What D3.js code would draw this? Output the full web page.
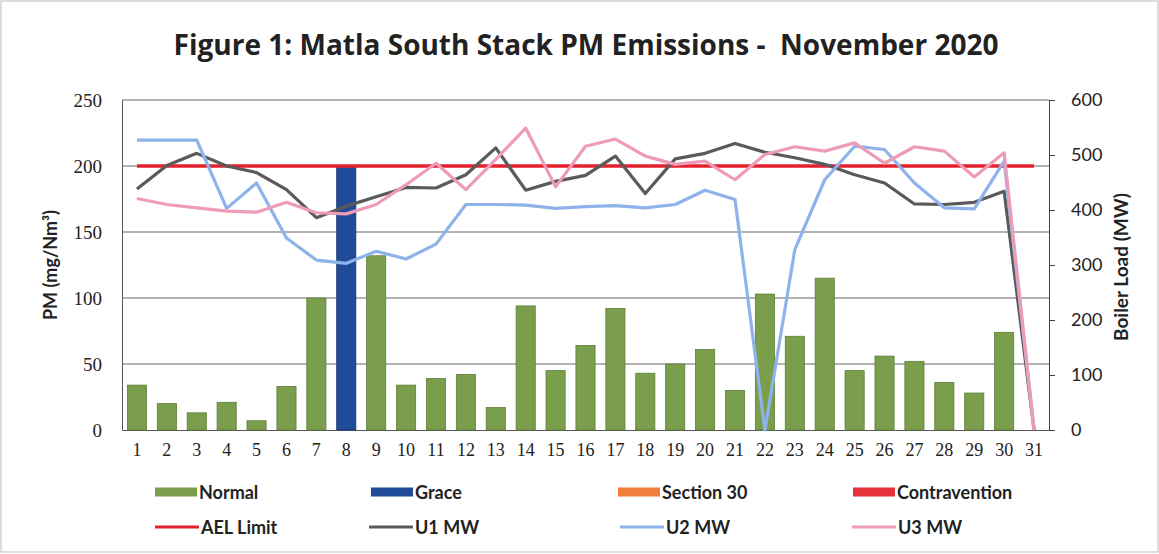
<!DOCTYPE html>
<html>
<head>
<meta charset="utf-8">
<script src="https://cdn.jsdelivr.net/npm/d3@7"></script>
<style>
  body { margin: 0; background: #fff; }
  svg text { font-family: Lato, "Open Sans", sans-serif; fill: #222; }
  svg .serif text { font-family: "Liberation Serif", "DejaVu Serif", serif; }
</style>
</head>
<body>
<svg id="chart" width="1159" height="554"></svg>
<script>
// data
const days = d3.range(1, 32).map(String);
const pm = [34, 20, 13, 21, 7, 33, 100, 200, 132, 34, 39, 42, 17, 94, 45, 64, 92, 43, 50, 61, 30, 103, 71, 115, 45, 56, 52, 36, 28, 74, null];
const grace_days = ['8'];
const ael_limit = days.map(() => 200);
const u1_mw = [438, 481, 503, 480, 468, 437, 386, 407, 424, 441, 440, 464, 513, 436, 452, 463, 498, 430, 493, 503, 521, 505, 495, 483, 464, 449, 411, 410, 414, 434, 0];
const u2_mw = [527, 527, 527, 403, 449, 349, 309, 303, 325, 311, 338, 410, 410, 409, 403, 406, 408, 404, 410, 436, 419, 0, 328, 455, 516, 510, 449, 404, 402, 489, 0];
const u3_mw = [421, 410, 404, 398, 396, 414, 395, 393, 410, 446, 485, 437, 492, 549, 442, 516, 529, 498, 483, 489, 455, 501, 515, 507, 522, 485, 515, 507, 460, 504, 0];
const pm_ticks = [0, 50, 100, 150, 200, 250];
const mw_ticks = [0, 100, 200, 300, 400, 500, 600];

const col = {
    normal: '#7a9e4c', grace: '#1f4b98', s30: '#ef7e3a', contra: '#e5323c',
    ael: '#e4202c', u1: '#5a5a5a', u2: '#8db3ea', u3: '#ee9bb8'
};

let svg = d3.select('#chart');
let plot_left = 122, plot_right = 1049, plot_top = 100, plot_bottom = 430;

// outer frame
svg.append('rect').attr('x', 1).attr('y', 1).attr('width', 1157).attr('height', 551)
    .attr('fill', 'none').attr('stroke', '#bbb');

let x = d3.scaleBand().domain(days).range([plot_left, plot_right]).paddingInner(0.36).paddingOuter(0.18);
let y = d3.scaleLinear().domain([0, 250]).range([plot_bottom, plot_top]);
let y2 = d3.scaleLinear().domain([0, 600]).range([plot_bottom, plot_top]);

// gridlines
svg.append('g').selectAll('line').data(pm_ticks.filter(d => d > 0)).enter().append('line')
    .attr('x1', plot_left).attr('x2', plot_right)
    .attr('y1', d => y(d)).attr('y2', d => y(d))
    .attr('stroke', '#666').attr('stroke-width', 1.1);

// left axis
let ya = svg.append('g').attr('class', 'serif').attr('transform', 'translate(' + plot_left + ',0)')
    .call(d3.axisLeft(y).tickValues(pm_ticks).tickSize(0).tickPadding(20));
ya.select('.domain').attr('stroke', '#555');
ya.selectAll('text').style('font-size', '19px').attr('fill', '#333');

// right axis
let yb = svg.append('g').attr('transform', 'translate(' + plot_right + ',0)')
    .call(d3.axisRight(y2).tickValues(mw_ticks).tickSize(6).tickPadding(16));
yb.select('.domain').attr('stroke', '#444');
yb.selectAll('line').attr('stroke', '#444');
yb.selectAll('text').style('font-size', '18px').attr('fill', '#333');

// x axis
let xa = svg.append('g').attr('class', 'serif').attr('transform', 'translate(0,' + plot_bottom + ')')
    .call(d3.axisBottom(x).tickSize(0).tickPadding(13));
xa.select('.domain').attr('stroke', '#555');
xa.selectAll('text').style('font-size', '18px').attr('fill', '#333');

// bars
svg.append('g').selectAll('rect')
    .data(days.map((d, i) => ({day: d, v: pm[i]})).filter(d => d.v !== null))
    .enter().append('rect')
    .attr('x', d => x(d.day))
    .attr('y', d => y(d.v))
    .attr('width', x.bandwidth())
    .attr('height', d => y(0) - y(d.v))
    .attr('fill', d => grace_days.includes(d.day) ? col.grace : col.normal)
    .attr('stroke', d => grace_days.includes(d.day) ? '#17346a' : '#5e7d38')
    .attr('stroke-width', 0.8);

// lines
function draw_line(values, scale, color, w) {
    let line = d3.line()
        .defined(d => d !== null)
        .x((d, i) => x(days[i]) + x.bandwidth() / 2)
        .y(d => scale(d));
    svg.append('path').datum(values).attr('d', line)
        .attr('fill', 'none').attr('stroke', color)
        .attr('stroke-width', w).attr('stroke-linejoin', 'round');
}
draw_line(ael_limit, y, col.ael, 3.5);
draw_line(u1_mw, y2, col.u1, 3.2);
draw_line(u2_mw, y2, col.u2, 3.2);
draw_line(u3_mw, y2, col.u3, 3.2);

// title
svg.append('text').attr('x', 586).attr('y', 55).attr('text-anchor', 'middle')
    .attr('xml:space', 'preserve').style('white-space', 'pre')
    .style('font-family', '"Open Sans", sans-serif')
    .style('font-size', '28px').style('font-weight', 'bold').attr('fill', '#2a2a2a')
    .text('Figure 1: Matla South Stack PM Emissions -  November 2020');

// axis titles
svg.append('text').attr('transform', 'translate(57,265) rotate(-90)')
    .attr('text-anchor', 'middle').style('font-size', '18px').style('font-weight', 'bold')
    .text('PM (mg/Nm³)');
svg.append('text').attr('transform', 'translate(1128,267) rotate(-90)')
    .attr('text-anchor', 'middle').style('font-size', '19px').style('font-weight', 'bold')
    .text('Boiler Load (MW)');

// legend
let legend = [
    {name: 'Normal', color: col.normal, kind: 'box', lx: 155, ly: 492},
    {name: 'Grace', color: col.grace, kind: 'box', lx: 371, ly: 492},
    {name: 'Section 30', color: col.s30, kind: 'box', lx: 618, ly: 492},
    {name: 'Contravention', color: col.contra, kind: 'box', lx: 853, ly: 492},
    {name: 'AEL Limit', color: col.ael, kind: 'line', lx: 155, ly: 527},
    {name: 'U1 MW', color: col.u1, kind: 'line', lx: 369, ly: 527},
    {name: 'U2 MW', color: col.u2, kind: 'line', lx: 620, ly: 527},
    {name: 'U3 MW', color: col.u3, kind: 'line', lx: 852, ly: 527}
];
let lg = svg.append('g').selectAll('g').data(legend).enter().append('g')
    .attr('transform', d => 'translate(' + d.lx + ',' + d.ly + ')');
lg.filter(d => d.kind === 'box').append('rect')
    .attr('x', 0).attr('y', -4.5).attr('width', 42).attr('height', 9)
    .attr('fill', d => d.color);
lg.filter(d => d.kind === 'line').append('line')
    .attr('x1', 0).attr('x2', 44).attr('y1', 0).attr('y2', 0)
    .attr('stroke', d => d.color).attr('stroke-width', 3);
lg.append('text').attr('x', d => d.kind === 'box' ? 44 : 46).attr('y', 7)
    .style('font-size', '18px').style('font-weight', 'bold')
    .text(d => d.name);
</script>
</body>
</html>
